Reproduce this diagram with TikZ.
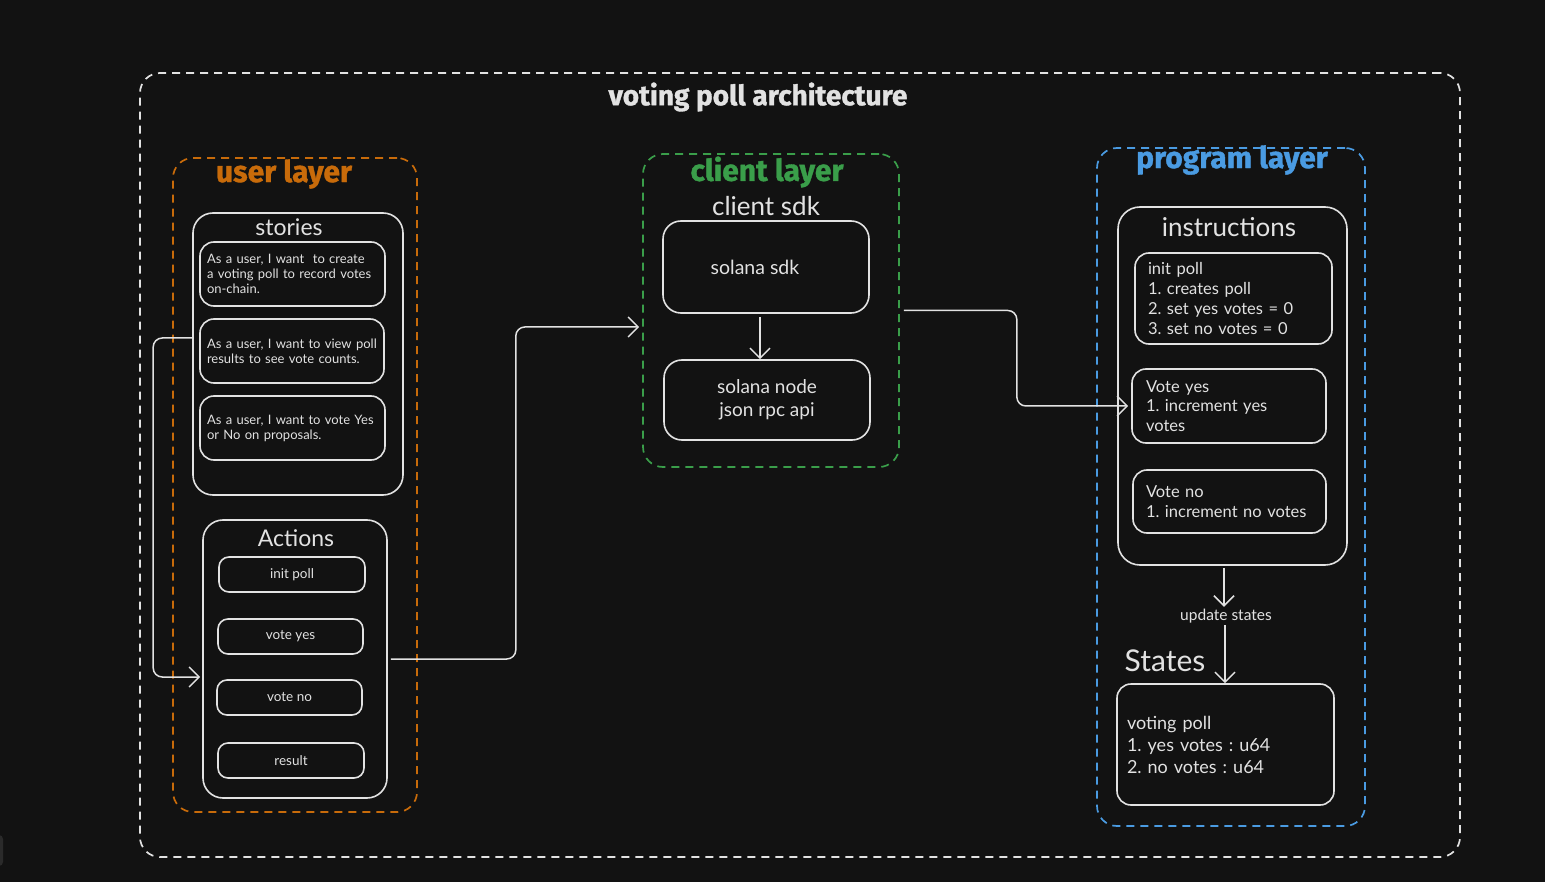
\documentclass[tikz,border=0pt]{standalone}
\usepackage{fontspec}
\setmainfont{Lato}
\newfontfamily\titlefont[BoldFeatures={FakeBold=1.2}]{Fira Sans}
\usetikzlibrary{arrows.meta}
\definecolor{bg}{HTML}{121212}
\definecolor{fg}{HTML}{E2E2E2}
\definecolor{uorange}{HTML}{C86B0A}
\definecolor{cgreen}{HTML}{3A9E4A}
\definecolor{pblue}{HTML}{4A9BE2}
\definecolor{uiart}{HTML}{2A2A2A}
\frenchspacing
\tikzset{
  frame/.style={draw, dash pattern=on 8pt off 6pt, line width=1.7pt, rounded corners=20pt, inner sep=0pt},
  box/.style={draw=fg, line width=1.6pt, rounded corners=#1, inner sep=0pt},
  box/.default=16pt,
  txtbox/.style={box=14pt, align=left, text=fg, inner xsep=#1, inner ysep=0pt},
  ttl/.style={font=\titlefont\bfseries\fontsize{30}{32}\selectfont},
  head/.style={text=fg, font=\fontsize{23}{26}\selectfont},
  actbox/.style={box=10pt, minimum height=35pt, text=fg, font=\fontsize{13.5}{15}\selectfont},
  storybox/.style={txtbox=7pt, minimum height=64pt, font=\fontsize{13}{15}\selectfont},
  instbox/.style={txtbox=#1, font=\fontsize{16.5}{20}\selectfont},
  conn/.style={draw=fg, line width=1.5pt, rounded corners=9pt, -{Straight Barb[length=10pt,width=20pt,line width=1.5pt]}}
}
\begin{document}
\begin{tikzpicture}[x=1pt,y=-1pt]
\fill[bg] (0,0) rectangle (1545,882);
\useasboundingbox (0,0) rectangle (1545,882);
\fill[uiart, rounded corners=4pt] (-6,835) rectangle (3,866);

% outer frame
\node[frame, draw=fg, minimum width=1320pt, minimum height=784pt] (outer) at (800,465) {};
\node[ttl, text=fg, font=\titlefont\bfseries\fontsize{28}{30}\selectfont] (maintitle) at (758,97) {voting poll architecture};

% user layer
\node[frame, draw=uorange, minimum width=244pt, minimum height=654pt] (user) at (295,485) {};
\node[ttl, text=uorange] (usertitle) at (284,174) {user layer};
\node[box=20pt, minimum width=210pt, minimum height=282pt] (stories) at (298,354) {};
\node[head] (storiestitle) at (289,227) {stories};
\node[storybox, text width=171pt] (s1) at (292.5,274) {As a user, I want\ \ to create\\a voting poll to record votes\\on-chain.};
\node[storybox, text width=170pt] (s2) at (292,351) {As a user, I want to view poll\\results to see vote counts.};
\node[storybox, text width=171pt] (s3) at (292.5,428) {As a user, I want to vote Yes\\or No on proposals.};

\node[box=20pt, minimum width=184pt, minimum height=278pt] (actions) at (295,659) {};
\node[head] (actionstitle) at (296,538) {Actions};
\node[actbox, minimum width=146pt] (a1) at (292,574.5) {init poll};
\node[actbox, minimum width=145pt] (a2) at (290.5,636.5) {vote yes};
\node[actbox, minimum width=145pt] (a3) at (289.5,697.5) {vote no};
\node[actbox, minimum width=146pt] (a4) at (291,760.5) {result};

% client layer
\node[frame, draw=cgreen, minimum width=256pt, minimum height=313pt] (client) at (771,310.5) {};
\node[ttl, text=cgreen] (clienttitle) at (767,172) {client layer};
\node[head, font=\fontsize{26}{28}\selectfont] (clientsdk) at (766,206) {client sdk};
\node[box=18pt, minimum width=206pt, minimum height=92pt, text=fg, font=\fontsize{19.5}{22}\selectfont] (sdk) at (766,267) {\hspace*{-22pt}solana sdk};
\node[box=18pt, minimum width=206pt, minimum height=80pt, text=fg, align=center, font=\fontsize{19}{23}\selectfont] (rpc) at (767,400) {solana node\\json rpc api};

% program layer
\node[frame, draw=pblue, minimum width=268pt, minimum height=678pt] (program) at (1231,487) {};
\node[ttl, text=pblue] (programtitle) at (1232,160) {program layer};
\node[box=22pt, minimum width=229pt, minimum height=358pt] (instr) at (1232.5,386) {};
\node[head, font=\fontsize{26}{28}\selectfont] (instrtitle) at (1229,227) {instructions};
\node[instbox=13pt, text width=171pt, minimum height=91pt] (i1) at (1233.5,298.5) {init poll\\1. creates poll\\2. set yes votes = 0\\3. set no votes = 0};
\node[instbox=14pt, text width=166pt, minimum height=74pt, font=\fontsize{16.5}{19.5}\selectfont] (i2) at (1229,406) {Vote yes\\1. increment yes\\votes};
\node[instbox=13pt, text width=167pt, minimum height=63pt] (i3) at (1229.5,501.5) {Vote no\\1. increment no votes};

\node[text=fg, font=\fontsize{15.5}{17}\selectfont, inner sep=2pt] (upd) at (1226,616) {update states};
\node[head, font=\fontsize{30}{32}\selectfont] (statestitle) at (1165,661) {States};
\node[txtbox=10pt, text width=197pt, minimum height=121pt, font=\fontsize{18}{22}\selectfont] (states) at (1225.5,744.5) {voting poll\\1. yes votes : u64\\2. no votes : u64};

% connectors
\draw[conn] ([yshift=16pt]stories.west) -- ++(-39,0) |- ([yshift=-18pt,xshift=-2pt]actions.west);
\draw[conn] ([xshift=3pt]actions.east) -- ++(125,0) |- ([yshift=-16.5pt,xshift=-3pt]client.west);
\draw[conn] ([xshift=4pt]client.east) -- ++(113,0) |- ([xshift=-3pt]i2.west);
\draw[conn] ([xshift=-6pt,yshift=-3pt]sdk.south) -- ([xshift=-7pt]rpc.north);
\draw[conn] (instr.south -| upd.north) ++(-2,2) -- ([xshift=-2pt]upd.north);
\draw[conn] ([xshift=-1pt]upd.south) -- ([xshift=-0.5pt]states.north);
\end{tikzpicture}
\end{document}
